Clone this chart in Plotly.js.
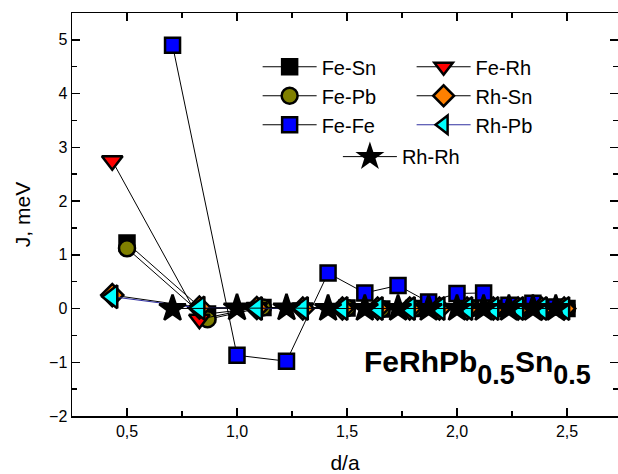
<!DOCTYPE html>
<html>
<head>
<meta charset="utf-8">
<script src="https://cdn.plot.ly/plotly-3.0.1.min.js"></script>
<style>
  html, body { margin: 0; padding: 0; background: #fff; }
  #chart { width: 618px; height: 474px; }
</style>
</head>
<body>
<div id="chart"></div>
<script>
// Neighbour shell distances d/a for each pair type
const dFcc = [0.707, 1.000, 1.225, 1.414, 1.581, 1.732, 1.871, 2.000, 2.121, 2.236, 2.345, 2.449];
const dRockSalt = [0.500, 0.866, 1.118, 1.500, 1.658, 1.803, 2.062, 2.179, 2.291, 2.500];
const dQuarter = [0.433, 0.829, 1.090, 1.299, 1.479, 1.639, 1.785, 1.920, 2.046, 2.165, 2.278, 2.385, 2.487];

// Exchange parameters J (meV)
const jFeSn = [1.22, -0.10, 0.02, 0.01, -0.01, 0.00, 0.01, 0.00, 0.00, 0.00];
const jFePb = [1.12, -0.20, 0.02, 0.01, -0.01, 0.00, 0.01, 0.00, 0.00, 0.00];
const jFeFe = [4.90, -0.87, -0.98, 0.66, 0.29, 0.43, 0.12, 0.28, 0.29, 0.06, 0.10, 0.03];
const jFeRh = [2.75, -0.20, 0.02, 0.01, 0.00, 0.00, 0.00, 0.00, 0.00, 0.00, 0.00, 0.00, 0.00];
const jRhSn = [0.25, 0.02, 0.01, 0.00, 0.00, 0.00, 0.00, 0.00, 0.00, 0.00, 0.00, 0.00, 0.00];
const jRhPb = [0.22, 0.01, 0.00, 0.00, 0.00, 0.00, 0.00, 0.00, 0.00, 0.00, 0.00, 0.00, 0.00];
const jRhRh = [0.00, 0.01, 0.01, 0.00, 0.00, 0.00, 0.00, 0.00, 0.00, 0.00, 0.00, 0.00];

const seriesNames = ['Fe-Sn', 'Fe-Pb', 'Fe-Fe', 'Fe-Rh', 'Rh-Sn', 'Rh-Pb', 'Rh-Rh'];

const FONT = 'Arial, "Liberation Sans", sans-serif';

function series(name, x, y, opts) {
  return {
    type: 'scatter',
    mode: 'lines+markers',
    name: name,
    x: x,
    y: y,
    legend: opts.legend,
    line: { color: opts.lineColor || '#000', width: 1 },
    marker: {
      symbol: opts.symbol,
      size: opts.size,
      color: opts.fill,
      line: { color: '#000', width: 2.5 }
    },
    cliponaxis: false
  };
}

const traces = [
  series(seriesNames[0], dRockSalt, jFeSn, { symbol: 'square', size: 15, fill: '#000000', legend: 'legend' }),
  series(seriesNames[1], dRockSalt, jFePb, { symbol: 'circle', size: 16, fill: '#808000', legend: 'legend' }),
  series(seriesNames[2], dFcc, jFeFe, { symbol: 'square', size: 15, fill: '#0000ff', legend: 'legend' }),
  series(seriesNames[3], dQuarter, jFeRh, { symbol: 'triangle-down', size: 18, fill: '#ff0000', legend: 'legend2' }),
  series(seriesNames[4], dQuarter, jRhSn, { symbol: 'diamond', size: 17, fill: '#ff8000', legend: 'legend2' }),
  series(seriesNames[5], dQuarter, jRhPb, { symbol: 'triangle-left', size: 20, fill: '#00ffff', lineColor: '#3030a0', legend: 'legend2' }),
  series(seriesNames[6], dFcc, jRhRh, { symbol: 'star', size: 20, fill: '#000000', legend: 'legend3' })
];

const legendBase = {
  bgcolor: 'rgba(0,0,0,0)',
  borderwidth: 0,
  font: { family: FONT, size: 20, color: '#000' },
  itemwidth: 54,
  tracegroupgap: 0,
  xanchor: 'left',
  yanchor: 'top'
};

const axisBase = {
  showgrid: false,
  zeroline: false,
  showline: true,
  linecolor: '#000',
  linewidth: 1.5,
  mirror: 'ticks',
  ticks: 'inside',
  ticklen: 8,
  tickwidth: 1.5,
  tickcolor: '#000',
  tickfont: { family: FONT, size: 16, color: '#000' }
};

const layout = {
  width: 618,
  height: 474,
  margin: { l: 72, r: 0, t: 13, b: 58 },
  paper_bgcolor: '#fff',
  plot_bgcolor: '#fff',
  separators: ',.',
  font: { family: FONT, color: '#000' },
  xaxis: Object.assign({}, axisBase, {
    range: [0.25, 2.7318],
    dtick: 0.5,
    tick0: 0.5,
    tickformat: '.1f',
    minor: { ticks: 'inside', ticklen: 5, tickwidth: 1.5, dtick: 0.25, tick0: 0.25, tickcolor: '#000' },
    title: { text: 'd/a', font: { family: FONT, size: 21, color: '#000' }, standoff: 16 }
  }),
  yaxis: Object.assign({}, axisBase, {
    range: [-2, 5.5],
    dtick: 1,
    tick0: 0,
    minor: { ticks: 'inside', ticklen: 5, tickwidth: 1.5, dtick: 0.5, tick0: 0, tickcolor: '#000' },
    title: { text: 'J, meV', font: { family: FONT, size: 21, color: '#000' }, standoff: 12 }
  }),
  legend: Object.assign({}, legendBase, { x: 0.340, y: 0.915 }),
  legend2: Object.assign({}, legendBase, { x: 0.622, y: 0.915 }),
  legend3: Object.assign({}, legendBase, { x: 0.487, y: 0.692 }),
  annotations: [{
    xref: 'x', yref: 'y',
    x: 1.567, y: -1.09,
    xanchor: 'left', yanchor: 'middle',
    showarrow: false,
    text: '<b>FeRhPb<sub><span style="font-size:27px;baseline-shift:-6px">0.5</span></sub>Sn<sub><span style="font-size:27px;baseline-shift:-6px">0.5</span></sub></b>',
    font: { family: FONT, size: 30, color: '#000' }
  }]
};

Plotly.newPlot('chart', traces, layout, { displayModeBar: false, staticPlot: true });
</script>
</body>
</html>
